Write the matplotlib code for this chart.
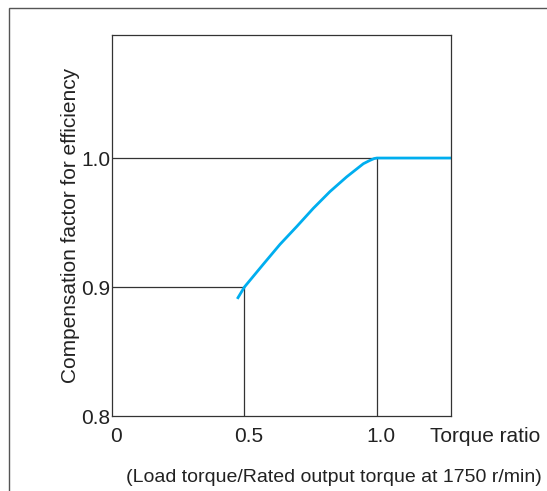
import matplotlib
matplotlib.use('Agg')
import matplotlib.pyplot as plt
import matplotlib.transforms as mtransforms
from matplotlib.patches import Rectangle

plt.rcParams['font.family'] = ['Liberation Sans', 'DejaVu Sans']

# curve
torque_ratio = [0.473, 0.5, 0.571, 0.634, 0.698, 0.760, 0.823, 0.886, 0.949, 0.974, 0.99, 1.0, 1.28]
comp_factor = [0.8908, 0.9, 0.9176, 0.933, 0.947, 0.961, 0.974, 0.9854, 0.9956, 0.9982, 0.9996, 1.0, 1.0]

x_ticks = [0, 0.5, 1.0]
x_tick_labels = ['0', '0.5', '1.0']
y_ticks = [0.8, 0.9, 1.0]
y_tick_labels = ['0.8', '0.9', '1.0']

fs = 15
txt_col = '#222222'

fig = plt.figure(figsize=(5.47, 4.91), dpi=100)
ax = fig.add_axes([112/547, 75/491, 339/547, 381/491])

# outer frame of the figure box
fig.patches.append(Rectangle((9/547, -0.1), 1.2, (491-8)/491 + 0.1, transform=fig.transFigure,
                             fill=False, edgecolor='#555555', lw=1.0))

line_col = '#333333'
# guide lines
ax.plot([0, 1.0], [1.0, 1.0], color=line_col, lw=0.9)
ax.plot([1.0, 1.0], [0.8, 1.0], color=line_col, lw=0.9)
ax.plot([0, 0.5], [0.9, 0.9], color=line_col, lw=0.9)
ax.plot([0.5, 0.5], [0.8, 0.9], color=line_col, lw=0.9)

ax.plot(torque_ratio, comp_factor, color='#00aeef', lw=2.0, solid_capstyle='butt',
        solid_joinstyle='round')

ax.set_xlim(0, 1.28)
ax.set_ylim(0.8, 1.0954)
ax.set_xticks(x_ticks)
ax.set_xticklabels(x_tick_labels)
ax.set_yticks(y_ticks)
ax.set_yticklabels(y_tick_labels)
ax.tick_params(axis='both', length=0, labelsize=fs, colors=txt_col)
ax.tick_params(axis='x', pad=8)
ax.tick_params(axis='y', pad=1)
for s in ax.spines.values():
    s.set_color(line_col)
    s.set_linewidth(0.9)

# x tick labels sit a little right of their guide lines in the original
shift = mtransforms.ScaledTranslation(4/100, 0, fig.dpi_scale_trans)
for lab in ax.get_xticklabels():
    lab.set_transform(lab.get_transform() + shift)

# "Torque ratio" sits on the tick label row, to the right of the axes
ax.annotate('Torque ratio', xy=(430/547, 1 - 437/491), xycoords='figure fraction',
            fontsize=fs, color=txt_col, ha='left', va='center')

ax.set_ylabel('Compensation factor for efficiency', fontsize=fs, color=txt_col, labelpad=1)
fig.text(334/547, 1 - 478/491, '(Load torque/Rated output torque at 1750 r/min)', fontsize=14,
         color=txt_col, ha='center', va='center')

fig.savefig('out.png', dpi=100)
